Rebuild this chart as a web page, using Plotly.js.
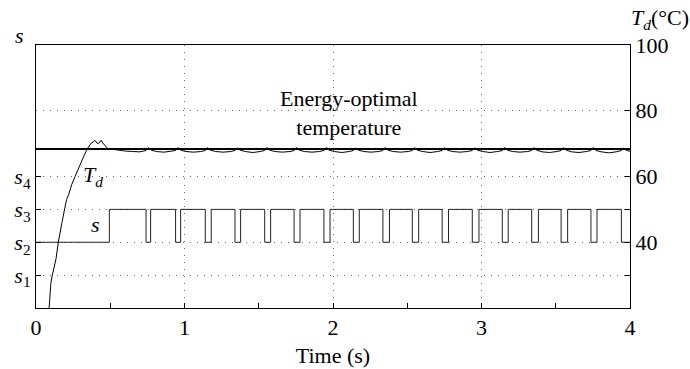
<!DOCTYPE html>
<html><head><meta charset="utf-8">
<script src="https://cdn.plot.ly/plotly-3.0.1.min.js"></script>
<style>body{margin:0;background:#fff}</style></head>
<body><div id="chart" style="width:690px;height:369px"></div>
<script>
// Temperature T_d (°C) vs time (s)
const tdTime = [0.085,0.092,0.100,0.110,0.120,0.135,0.150,0.162,0.175,0.190,0.206,0.220,0.240,0.263,0.285,0.305,0.325,0.345,0.360,0.372,
  0.385,0.397,0.410,0.420,0.430,0.438,0.450,0.465,0.480,0.500,0.540,0.590,0.650,0.700,
  0.741,0.756,0.776,0.811,0.861,0.911,
  0.940,0.955,0.975,1.010,1.060,1.110,
  1.140,1.155,1.175,1.210,1.260,1.310,
  1.340,1.355,1.375,1.410,1.460,1.510,
  1.540,1.555,1.575,1.610,1.660,1.710,
  1.738,1.753,1.773,1.808,1.858,1.908,
  1.939,1.954,1.974,2.009,2.059,2.109,
  2.137,2.152,2.172,2.207,2.257,2.307,
  2.336,2.351,2.371,2.406,2.456,2.506,
  2.534,2.549,2.569,2.604,2.654,2.704,
  2.735,2.750,2.770,2.805,2.855,2.905,
  2.938,2.953,2.973,3.008,3.058,3.108,
  3.140,3.155,3.175,3.210,3.260,3.310,
  3.338,3.353,3.373,3.408,3.458,3.508,
  3.536,3.551,3.571,3.606,3.656,3.706,
  3.737,3.752,3.772,3.807,3.857,3.907,
  3.942,3.957,3.977,4.000];
const tdValue = [18,24,27.5,30,32,35,40,42.5,46,49.5,53,54.5,57.5,60,62.5,64.5,66.5,68.4,69.6,70.2,
  70.5,71,70.2,70.0,70.5,71,70.2,69.3,68.6,68.4,68.1,67.8,67.6,67.5,
  67.9,68.8,68.0,67.6,67.4,67.6,
  67.9,68.8,68.0,67.6,67.4,67.6,
  67.9,68.8,68.0,67.6,67.4,67.6,
  67.9,68.7,68.0,67.6,67.3,67.6,
  67.9,68.8,68.0,67.6,67.4,67.6,
  67.9,68.8,68.0,67.6,67.4,67.6,
  67.9,68.8,68.0,67.6,67.3,67.6,
  67.9,68.7,68.0,67.6,67.4,67.6,
  67.9,68.8,68.0,67.6,67.4,67.6,
  67.9,68.8,68.0,67.6,67.3,67.6,
  67.9,68.8,68.0,67.6,67.4,67.6,
  67.9,68.7,68.0,67.6,67.3,67.6,
  67.9,68.8,68.0,67.6,67.4,67.6,
  67.9,68.8,68.0,67.5,67.3,67.6,
  67.9,68.8,68.0,67.5,67.3,67.6,
  67.9,68.8,67.9,67.5,67.2,67.5,
  67.9,68.6,67.9,67.7];

// Switching signal s (level index: 2 = s2, 3 = s3)
const sSwitchTime = [0,0.494,0.741,0.772,0.940,0.974,1.140,1.180,1.340,1.378,1.540,1.580,1.738,1.778,1.939,1.980,
  2.137,2.177,2.336,2.380,2.534,2.577,2.735,2.778,2.938,2.983,3.140,3.180,3.338,3.383,3.536,3.580,3.737,3.778,3.942,4.000];
const sLevel = [2,3,2,3,2,3,2,3,2,3,2,3,2,3,2,3,2,3,2,3,2,3,2,3,2,3,2,3,2,3,2,3,2,3,2,2];

const energyOptimalT = 68.4;
const timeSpan = [0, 4];

const sTickVals = [1,2,3,4];
const sTickText = ['<i>s</i><sub>1</sub>','<i>s</i><sub>2</sub>','<i>s</i><sub>3</sub>','<i>s</i><sub>4</sub>'];
const tTickVals = [20,40,60,80,100];
const tTickText = ['','40','60','80','100'];
const xTickVals = [0,1,2,3,4];
const xTickText = ['0','1','2','3','4'];

const FONT = '"Liberation Serif", "Times New Roman", serif';
const GRID = '#666';
const DASH = '1px,6px';

const traces = [
  {x: sSwitchTime, y: sLevel, yaxis: 'y', mode: 'lines', line: {shape: 'hv', color: '#222', width: 1}, hoverinfo: 'skip'},
  {x: timeSpan, y: [energyOptimalT, energyOptimalT], yaxis: 'y2', mode: 'lines', line: {color: '#000', width: 2}, hoverinfo: 'skip'},
  {x: tdTime, y: tdValue, yaxis: 'y2', mode: 'lines', line: {color: '#000', width: 1}, hoverinfo: 'skip'}
];

const f22 = {family: FONT, size: 22, color: '#000'};

const layout = {
  width: 690, height: 369,
  margin: {l: 36, r: 60, t: 45, b: 61},
  paper_bgcolor: '#fff', plot_bgcolor: '#fff',
  showlegend: false,
  font: f22,
  xaxis: {
    range: [0, 4], tickvals: xTickVals, ticktext: xTickText, tickfont: f22,
    ticks: 'inside', ticklen: 5, tickcolor: '#000',
    showline: true, mirror: true, linecolor: '#000', linewidth: 1,
    showgrid: true, gridcolor: GRID, griddash: DASH, gridwidth: 1,
    zeroline: false,
    minor: {dtick: 0.5, tick0: 0, ticks: 'inside', ticklen: 5, tickcolor: '#000', showgrid: false},
    title: {text: 'Time (s)', font: f22, standoff: 8}
  },
  yaxis: {
    range: [0, 8], tickvals: sTickVals, ticktext: sTickText, tickfont: f22,
    ticks: 'inside', ticklen: 5, tickcolor: '#000',
    showline: true, mirror: 'ticks', linecolor: '#000', linewidth: 1,
    showgrid: true, gridcolor: GRID, griddash: DASH, gridwidth: 1,
    zeroline: false
  },
  yaxis2: {
    overlaying: 'y', side: 'right',
    range: [20, 100], tickvals: tTickVals, ticktext: tTickText, tickfont: f22,
    ticks: 'inside', ticklen: 5, tickcolor: '#000',
    showline: true, linecolor: '#000', linewidth: 1,
    showgrid: true, gridcolor: GRID, griddash: DASH, gridwidth: 1,
    zeroline: false
  },
  annotations: [
    {xref: 'x', yref: 'y2', x: 2.11, y: 79.3, xanchor: 'center', yanchor: 'middle', text: 'Energy-optimal<br>temperature', showarrow: false, font: f22},
    {xref: 'x', yref: 'y2', x: 0.384, y: 60.2, xanchor: 'center', yanchor: 'middle', text: '<i>T<sub>d</sub></i>', showarrow: false, font: f22},
    {xref: 'x', yref: 'y', x: 0.404, y: 2.55, xanchor: 'center', yanchor: 'middle', text: '<i>s</i>', showarrow: false, font: f22},
    {xref: 'paper', yref: 'paper', x: -0.027, y: 1.038, xanchor: 'center', yanchor: 'middle', text: '<i>s</i>', showarrow: false, font: f22},
    {xref: 'paper', yref: 'paper', x: 1.05, y: 1.10, xanchor: 'center', yanchor: 'middle', text: '<i>T<sub>d</sub></i>(°C)', showarrow: false, font: f22}
  ]
};

Plotly.newPlot('chart', traces, layout, {staticPlot: true, displayModeBar: false});
</script>
</body></html>
